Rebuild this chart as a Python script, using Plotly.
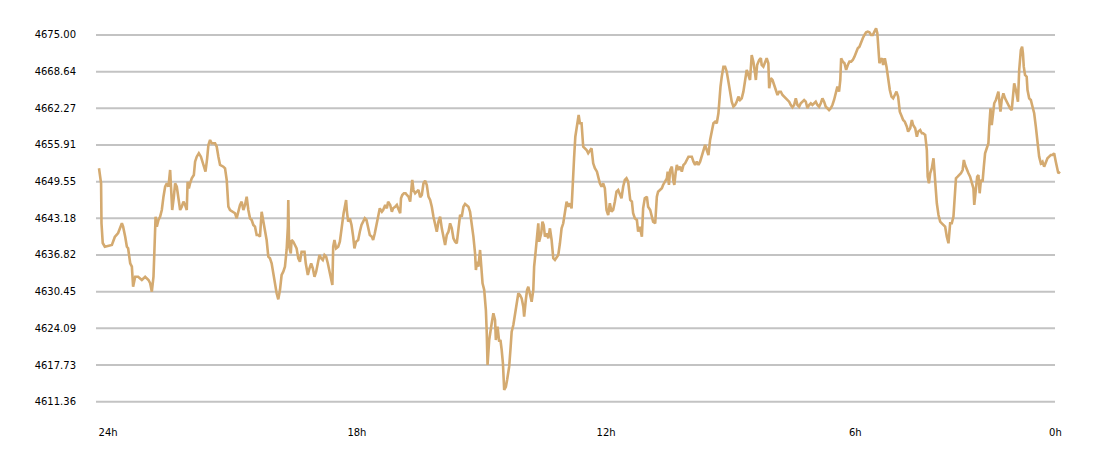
import plotly.graph_objects as go

hours = [0.00,0.05,0.06,0.09,0.14,0.22,0.31,0.38,0.46,0.55,0.58,0.63,0.67,0.70,0.75,0.79,0.82,0.87,0.94,1.03,
1.11,1.19,1.23,1.27,1.31,1.33,1.36,1.39,1.43,1.47,1.51,1.55,1.59,1.63,1.67,1.71,1.73,1.76,1.80,1.83,
1.87,1.89,1.92,1.95,1.99,2.03,2.07,2.11,2.13,2.16,2.19,2.23,2.28,2.31,2.35,2.40,2.45,2.51,2.56,2.60,
2.63,2.67,2.71,2.79,2.83,2.87,2.91,2.99,3.03,3.07,3.11,3.15,3.23,3.27,3.31,3.35,3.39,3.43,3.47,3.51,
3.55,3.59,3.63,3.67,3.71,3.75,3.79,3.83,3.87,3.91,3.95,3.99,4.03,4.07,4.11,4.15,4.19,4.23,4.27,4.31,
4.35,4.39,4.43,4.47,4.51,4.54,4.55,4.57,4.61,4.63,4.67,4.71,4.75,4.79,4.83,4.87,4.94,4.97,5.02,5.06,
5.10,5.14,5.18,5.22,5.26,5.30,5.34,5.38,5.42,5.46,5.50,5.54,5.58,5.61,5.63,5.66,5.70,5.75,5.79,5.82,
5.85,5.88,5.91,5.94,5.96,5.99,6.03,6.07,6.11,6.14,6.18,6.23,6.27,6.31,6.35,6.39,6.43,6.47,6.51,6.56,
6.59,6.63,6.68,6.71,6.75,6.80,6.83,6.88,6.92,6.95,7.00,7.04,7.07,7.12,7.16,7.19,7.24,7.26,7.29,7.33,
7.37,7.40,7.44,7.48,7.50,7.53,7.56,7.60,7.64,7.68,7.72,7.76,7.80,7.84,7.88,7.92,7.96,8.00,8.04,8.08,
8.12,8.16,8.20,8.24,8.28,8.32,8.36,8.40,8.44,8.48,8.52,8.56,8.60,8.64,8.68,8.72,8.76,8.80,8.84,8.88,
8.92,8.96,9.00,9.04,9.06,9.09,9.12,9.16,9.18,9.22,9.26,9.30,9.32,9.34,9.38,9.41,9.44,9.48,9.52,9.54,
9.58,9.62,9.65,9.68,9.71,9.74,9.78,9.81,9.86,9.89,9.92,9.96,10.00,10.04,10.08,10.12,10.16,10.20,10.22,10.26,
10.29,10.32,10.36,10.40,10.44,10.46,10.50,10.53,10.56,10.58,10.63,10.66,10.69,10.72,10.76,10.80,10.84,10.88,10.92,10.96,
11.00,11.04,11.08,11.12,11.16,11.20,11.24,11.28,11.32,11.36,11.38,11.42,11.45,11.48,11.51,11.53,11.56,11.60,11.64,11.68,
11.72,11.76,11.80,11.84,11.88,11.92,11.97,12.00,12.04,12.08,12.12,12.16,12.20,12.24,12.28,12.32,12.36,12.40,12.44,12.48,
12.52,12.56,12.60,12.64,12.68,12.72,12.77,12.81,12.84,12.88,12.93,12.96,13.00,13.05,13.08,13.12,13.17,13.20,13.25,13.29,
13.32,13.37,13.41,13.44,13.49,13.53,13.56,13.61,13.65,13.67,13.70,13.73,13.77,13.81,13.83,13.86,13.89,13.93,13.97,14.01,
14.05,14.09,14.13,14.17,14.21,14.25,14.29,14.33,14.37,14.41,14.45,14.49,14.53,14.57,14.61,14.65,14.69,14.73,14.77,14.81,
14.85,14.89,14.91,14.94,14.97,15.01,15.05,15.09,15.13,15.17,15.21,15.25,15.29,15.33,15.37,15.41,15.45,15.49,15.53,15.57,
15.61,15.65,15.69,15.73,15.77,15.79,15.82,15.87,15.91,15.93,15.97,16.01,16.05,16.09,16.11,16.15,16.19,16.23,16.27,16.31,
16.35,16.39,16.43,16.47,16.51,16.55,16.59,16.63,16.67,16.71,16.75,16.79,16.83,16.87,16.91,16.95,16.99,17.03,17.07,17.11,
17.15,17.19,17.23,17.27,17.31,17.35,17.39,17.43,17.47,17.51,17.55,17.59,17.63,17.67,17.71,17.75,17.79,17.82,17.84,17.88,
17.92,17.96,18.00,18.04,18.08,18.12,18.16,18.20,18.24,18.28,18.32,18.36,18.40,18.44,18.48,18.52,18.56,18.60,18.64,18.68,
18.71,18.73,18.76,18.79,18.82,18.85,18.89,18.93,18.97,19.01,19.05,19.09,19.13,19.17,19.21,19.25,19.30,19.33,19.37,19.42,
19.45,19.50,19.54,19.57,19.62,19.66,19.69,19.74,19.78,19.81,19.86,19.90,19.92,19.95,19.98,20.02,20.06,20.08,20.11,20.14,
20.18,20.22,20.26,20.30,20.34,20.38,20.42,20.46,20.50,20.54,20.58,20.60,20.64,20.68,20.72,20.76,20.79,20.82,20.86,20.90,
20.94,20.98,21.02,21.04,21.08,21.11,21.14,21.17,21.20,21.24,21.27,21.30,21.34,21.38,21.40,21.43,21.46,21.49,21.52,21.56,
21.59,21.62,21.64,21.67,21.70,21.74,21.78,21.82,21.86,21.90,21.94,21.98,22.00,22.04,22.07,22.09,22.12,22.14,22.16,22.19,
22.21,22.23,22.26,22.30,22.32,22.36,22.40,22.43,22.48,22.52,22.55,22.60,22.64,22.68,22.72,22.76,22.80,22.84,22.88,22.92,
22.96,23.00,23.03,23.06,23.10]

prices = [4651.87,4649.26,4642.32,4638.90,4638.26,4638.38,4638.55,4639.94,4640.64,4642.32,4641.73,4640.00,4638.26,4637.98,4635.38,4634.79,4631.32,4633.05,4633.05,4632.48,
4633.05,4632.48,4631.91,4630.45,4633.05,4637.11,4643.47,4641.73,4642.89,4643.47,4644.63,4646.94,4648.67,4649.26,4648.67,4651.57,4649.26,4644.63,4646.94,4649.26,
4648.67,4647.53,4646.36,4644.63,4645.20,4646.07,4645.50,4644.63,4649.54,4648.39,4649.26,4650.13,4650.70,4653.01,4653.88,4654.47,4653.88,4652.44,4651.28,4653.60,
4655.91,4656.78,4656.20,4656.20,4655.61,4653.88,4652.44,4652.14,4651.87,4649.84,4645.20,4644.63,4644.33,4644.06,4643.19,4644.63,4645.50,4646.07,4644.63,4645.50,
4646.94,4644.63,4643.19,4642.89,4642.03,4641.73,4640.29,4640.29,4640.00,4644.33,4642.60,4641.16,4639.42,4636.52,4636.25,4635.38,4633.35,4631.61,4630.17,4629.13,
4630.74,4633.35,4633.92,4634.79,4637.69,4641.73,4646.36,4638.26,4637.11,4639.42,4639.13,4638.55,4637.98,4636.25,4635.66,4637.39,4637.39,4635.38,4633.35,4634.51,
4635.38,4634.51,4633.05,4633.92,4635.66,4636.82,4636.25,4635.95,4636.82,4636.52,4635.38,4633.92,4632.48,4631.61,4638.26,4639.42,4637.98,4638.26,4639.13,4641.16,
4643.19,4644.06,4645.20,4646.36,4644.33,4642.60,4643.19,4642.03,4640.00,4637.98,4639.13,4639.42,4640.86,4642.03,4642.60,4643.19,4642.89,4641.73,4640.29,4640.00,
4639.42,4640.58,4642.60,4643.76,4644.92,4644.33,4644.63,4645.50,4644.92,4646.07,4645.50,4644.33,4644.92,4645.20,4645.50,4644.92,4644.06,4646.66,4647.23,4647.53,
4647.53,4647.23,4646.94,4646.07,4647.81,4649.84,4648.10,4647.53,4647.81,4648.10,4646.83,4647.23,4649.26,4649.71,4648.97,4646.94,4646.36,4645.20,4643.47,4642.03,
4640.86,4642.60,4643.47,4641.45,4639.72,4638.55,4640.29,4640.86,4642.32,4641.45,4639.72,4639.13,4638.85,4641.45,4643.76,4643.47,4645.20,4645.67,4645.50,4645.20,
4644.33,4642.32,4640.00,4637.11,4634.22,4635.66,4634.79,4637.69,4635.38,4631.91,4630.74,4627.27,4623.51,4617.73,4622.07,4623.80,4624.97,4626.70,4625.54,4622.07,
4624.38,4621.77,4622.07,4620.33,4618.02,4613.39,4613.96,4615.13,4617.43,4620.33,4623.51,4624.67,4626.70,4629.01,4630.17,4629.88,4629.30,4627.85,4626.11,4629.01,
4630.74,4631.32,4630.17,4628.71,4630.74,4634.79,4637.69,4640.00,4642.32,4639.13,4640.58,4642.60,4642.03,4640.00,4640.58,4639.72,4641.45,4639.42,4636.25,4635.95,
4636.52,4636.82,4638.85,4641.45,4642.32,4644.06,4646.07,4645.20,4645.79,4644.92,4648.67,4653.60,4657.35,4658.81,4660.25,4661.12,4659.68,4659.68,4655.61,4655.34,
4655.04,4654.47,4655.04,4655.34,4652.73,4651.87,4651.28,4650.41,4649.26,4648.67,4649.26,4648.39,4644.63,4643.76,4645.79,4644.33,4644.63,4646.07,4647.81,4648.10,
4647.23,4646.66,4648.67,4649.84,4650.13,4649.54,4646.36,4646.07,4644.06,4643.19,4642.89,4640.86,4641.73,4640.00,4644.92,4646.66,4646.94,4645.20,4644.63,4643.19,
4642.60,4642.32,4646.94,4647.81,4648.10,4648.39,4648.97,4649.54,4650.13,4651.28,4648.97,4651.57,4652.14,4649.54,4648.97,4651.00,4652.44,4651.57,4652.14,4651.28,
4652.44,4652.73,4653.31,4653.88,4653.88,4653.88,4653.01,4652.44,4653.01,4652.44,4653.01,4653.88,4655.04,4655.91,4655.04,4654.17,4656.78,4658.51,4659.68,4659.95,
4659.68,4661.41,4663.72,4666.03,4667.76,4669.50,4669.50,4668.63,4666.90,4665.16,4663.42,4662.56,4662.85,4663.42,4664.29,4663.72,4664.01,4665.16,4666.90,4668.93,
4668.06,4667.19,4671.53,4670.37,4668.35,4667.19,4669.79,4670.66,4670.96,4669.79,4669.50,4670.37,4670.96,4670.09,4665.75,4667.49,4667.19,4666.32,4665.45,4664.59,
4665.16,4665.16,4664.59,4664.29,4664.01,4663.72,4663.42,4662.85,4662.45,4662.85,4664.01,4662.85,4662.56,4663.15,4663.42,4663.72,4663.42,4662.28,4662.85,4663.15,
4662.85,4663.15,4663.42,4662.85,4662.56,4663.15,4664.01,4663.42,4662.56,4662.28,4661.98,4662.28,4662.85,4663.72,4665.16,4666.03,4665.16,4667.19,4670.96,4670.37,
4670.09,4668.93,4669.79,4670.37,4670.37,4670.66,4671.23,4671.82,4672.69,4672.97,4673.84,4674.43,4675.00,4675.47,4675.57,4675.47,4675.00,4675.00,4675.57,4676.16,
4675.30,4672.97,4670.09,4670.66,4670.96,4669.79,4670.96,4669.50,4667.19,4665.45,4664.29,4664.01,4664.59,4665.16,4664.29,4661.69,4660.82,4660.25,4659.95,4659.09,
4658.22,4658.81,4660.25,4659.38,4658.81,4657.35,4658.22,4658.51,4657.94,4657.94,4657.65,4655.04,4650.41,4649.26,4651.00,4651.87,4653.60,4651.57,4648.67,4645.79,
4643.76,4642.60,4642.32,4642.03,4641.73,4640.00,4638.85,4642.32,4642.32,4643.47,4646.94,4650.13,4650.41,4650.70,4651.00,4651.57,4653.31,4652.44,4651.57,4651.00,
4650.41,4649.26,4648.39,4645.50,4648.97,4650.41,4650.70,4647.53,4649.84,4649.54,4652.14,4654.47,4655.34,4656.20,4659.09,4662.28,4659.38,4661.69,4663.15,4663.72,
4664.59,4665.16,4663.72,4661.69,4663.72,4664.88,4664.01,4663.42,4662.85,4662.28,4661.98,4664.59,4666.62,4665.45,4664.29,4663.42,4668.93,4670.66,4672.40,4672.97,
4671.82,4669.50,4668.06,4667.76,4665.45,4664.01,4663.72,4662.85,4661.41,4659.09,4656.78,4653.88,4652.73,4653.01,4652.14,4653.01,4653.60,4653.88,4654.17,4654.17,
4654.47,4653.01,4651.57,4651.00,4651.28]

y_ticks = [4611.36, 4617.73, 4624.09, 4630.45, 4636.82, 4643.18, 4649.55, 4655.91, 4662.27, 4668.64, 4675.00]
x_tick_hours = [0.22, 6.2, 12.19, 18.18, 22.99]
x_tick_labels = ["24h", "18h", "12h", "6h", "0h"]

LINE_COLOR = "#d4aa70"
GRID_COLOR = "#c3c3c3"
FONT = dict(family="DejaVu Sans", size=10, color="#000000")

fig = go.Figure()
fig.add_trace(go.Scatter(x=hours, y=prices, mode="lines",
                         line=dict(color=LINE_COLOR, width=2.6),
                         hoverinfo="x+y", showlegend=False))

grid_end = (1055 - 96) / 966
for v in y_ticks:
    fig.add_shape(type="line", xref="paper", yref="y", x0=0, x1=grid_end, y0=v, y1=v,
                  line=dict(color=GRID_COLOR, width=2), layer="below")

fig.update_layout(
    width=1092, height=450,
    margin=dict(l=88, r=38, t=12, b=48),
    paper_bgcolor="white", plot_bgcolor="white",
    font=FONT,
    showlegend=False,
    xaxis=dict(range=[-0.072, 23.149], showgrid=False, zeroline=False, showline=False,
               tickmode="array", tickvals=x_tick_hours, ticktext=x_tick_labels,
               ticks="", ticklabelstandoff=15, tickfont=FONT, fixedrange=True),
    yaxis=dict(range=[4609.92, 4677.60], showgrid=False, zeroline=False, showline=False,
               tickmode="array", tickvals=y_ticks, ticktext=[f"{v:.2f}" for v in y_ticks],
               ticks="", ticklabelstandoff=19, tickfont=FONT, fixedrange=True),
)

fig.write_html("out.html")
